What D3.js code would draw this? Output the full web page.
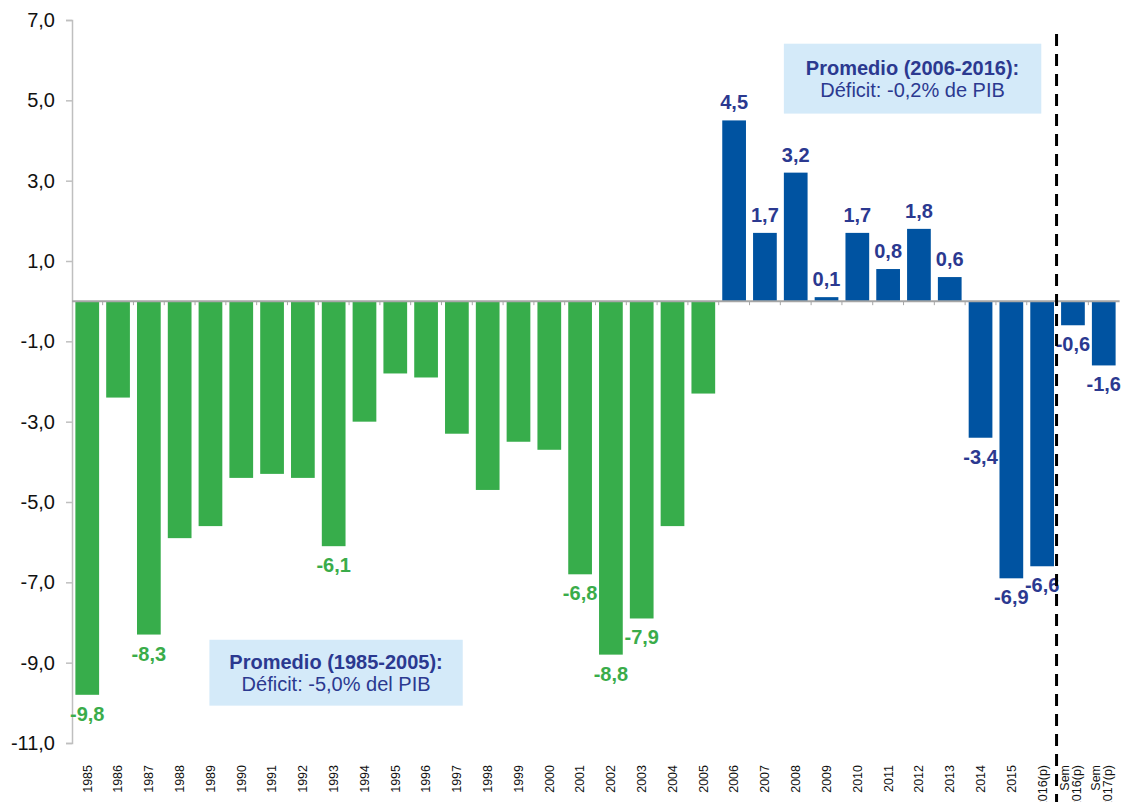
<!DOCTYPE html>
<html>
<head>
<meta charset="utf-8">
<script src="https://cdn.jsdelivr.net/npm/d3@7"></script>
<style>
  body { margin: 0; background: #fff; }
  svg { display: block; font-family: "Liberation Sans", Arial, sans-serif; }
</style>
</head>
<body>
<svg id="chart" width="1126" height="802"></svg>
<script>
// categories (x axis), two-line labels split with "|"
const categories = ["1985","1986","1987","1988","1989","1990","1991","1992","1993","1994",
  "1995","1996","1997","1998","1999","2000","2001","2002","2003","2004","2005",
  "2006","2007","2008","2009","2010","2011","2012","2013","2014","2015","2016(p)",
  "Sem|2016(p)","Sem|2017(p)"];
// balance as % of GDP
const values = [-9.8,-2.4,-8.3,-5.9,-5.6,-4.4,-4.3,-4.4,-6.1,-3.0,
  -1.8,-1.9,-3.3,-4.7,-3.5,-3.7,-6.8,-8.8,-7.9,-5.6,-2.3,
  4.5,1.7,3.2,0.1,1.7,0.8,1.8,0.6,-3.4,-6.9,-6.6,
  -0.6,-1.6];
// periods: first 21 are 1985-2005 (green), rest blue
const period = categories.map((c, i) => i < 21 ? "old" : "new");
// which green bars get a value label
const labelledOld = ["1985","1987","1993","2001","2002","2003"];
const yTicks = [7,5,3,1,-1,-3,-5,-7,-9,-11];
const noteTitles = ["Promedio (1985-2005):", "Promedio (2006-2016):"];
const noteTexts = ["Déficit: -5,0% del PIB", "Déficit: -0,2% de PIB"];
const noteSpan = [["1990","1997"], ["2008","2016(p)"]];
const noteRange = [[-8.43, -10.07], [6.41, 4.67]]; // top / bottom in axis units

const GREEN = "#37ad4b", BLUE = "#0053a1";
const GREEN_TXT = "#3aac4a", BLUE_TXT = "#2b3990";
const fmt = v => d3.format(".1f")(v).replace(".", ",").replace("−", "-");

const svg = d3.select("#chart");
const margin = {left: 72, right: 7, top: 20};
const y = d3.scaleLinear().domain([-11, 7]).range([743, 20]);
const x = d3.scaleBand().domain(categories).range([margin.left, 1126 - margin.right]).paddingInner(0.23).paddingOuter(0.11);

// y axis
const yAxis = svg.append("g").attr("transform", `translate(${margin.left},0)`)
  .call(d3.axisLeft(y).tickValues(yTicks).tickSize(6).tickFormat(fmt));
yAxis.select(".domain").attr("stroke", "#bfbfbf").attr("stroke-width", 1.5);
yAxis.selectAll(".tick line").attr("stroke", "#bfbfbf").attr("stroke-width", 1.5);
yAxis.selectAll(".tick text").attr("font-size", 20).attr("fill", "#111").attr("x", -17);

// bars
svg.append("g").selectAll("rect").data(categories).join("rect")
  .attr("x", d => x(d))
  .attr("width", x.bandwidth())
  .attr("y", (d, i) => y(Math.max(0, values[i])))
  .attr("height", (d, i) => Math.abs(y(values[i]) - y(0)))
  .attr("fill", (d, i) => period[i] === "old" ? GREEN : BLUE);

// zero line with category ticks
const step = x.step();
const zero = svg.append("g").attr("transform", `translate(0,${y(0)})`);
zero.append("line").attr("x1", margin.left).attr("x2", x(categories[categories.length - 1]) + x.bandwidth() + 4)
  .attr("stroke", "#a6a6a6").attr("stroke-width", 2);
zero.selectAll("line.tk").data(categories.slice(1)).join("line").attr("class", "tk")
  .attr("x1", d => x(d) - step * x.paddingInner() / 2).attr("x2", d => x(d) - step * x.paddingInner() / 2)
  .attr("y1", 0).attr("y2", 4).attr("stroke", "#a6a6a6").attr("stroke-width", 1);

// value labels
svg.append("g").selectAll("text").data(categories).join("text")
  .filter((d, i) => period[i] === "new" || labelledOld.includes(d))
  .attr("x", d => x(d) + x.bandwidth() / 2)
  .attr("y", d => { const v = values[categories.indexOf(d)]; return v >= 0 ? y(v) - 11 : y(v) + 26; })
  .attr("text-anchor", "middle")
  .attr("font-size", 20).attr("font-weight", "bold")
  .attr("fill", d => period[categories.indexOf(d)] === "old" ? GREEN_TXT : BLUE_TXT)
  .text(d => fmt(values[categories.indexOf(d)]));

// x labels, rotated
const xl = svg.append("g").selectAll("text").data(categories).join("text")
  .attr("transform", d => `translate(${x(d) + x.bandwidth() / 2},765) rotate(-90)`)
  .attr("text-anchor", "end").attr("font-size", 12.5).attr("fill", "#111");
xl.each(function(d) {
  const parts = d.split("|");
  const t = d3.select(this);
  parts.forEach((p, k) => t.append("tspan").attr("x", 0)
    .attr("dy", k === 0 ? (parts.length > 1 ? "-0.3em" : "0.35em") : "0.95em").text(p));
});

// dashed separator between annual and semester data
const sepX = x("Sem|2016(p)") - step * x.paddingInner() / 2 - 1;
svg.append("line").attr("x1", sepX).attr("x2", sepX).attr("y1", 34).attr("y2", 802)
  .attr("stroke", "#000").attr("stroke-width", 3).attr("stroke-dasharray", "12,8");

// note boxes
noteTitles.forEach((title, i) => {
  const x0 = i === 0 ? x(noteSpan[i][0]) - 20 : x(noteSpan[i][0]);
  const x1 = i === 0 ? x(noteSpan[i][1]) + x.bandwidth() - 6 : x(noteSpan[i][1]) + 11;
  const top = y(noteRange[i][0]), bot = y(noteRange[i][1]), mid = (top + bot) / 2;
  const g = svg.append("g");
  g.append("rect").attr("x", x0).attr("y", top).attr("width", x1 - x0).attr("height", bot - top)
    .attr("fill", "#d4eaf9");
  g.append("text").attr("x", (x0 + x1) / 2).attr("y", mid - 4).attr("text-anchor", "middle")
    .attr("font-size", 20).attr("font-weight", "bold").attr("fill", BLUE_TXT).text(title);
  g.append("text").attr("x", (x0 + x1) / 2).attr("y", mid + 18.5).attr("text-anchor", "middle")
    .attr("font-size", 20).attr("fill", BLUE_TXT).text(noteTexts[i]);
});
</script>
</body>
</html>
